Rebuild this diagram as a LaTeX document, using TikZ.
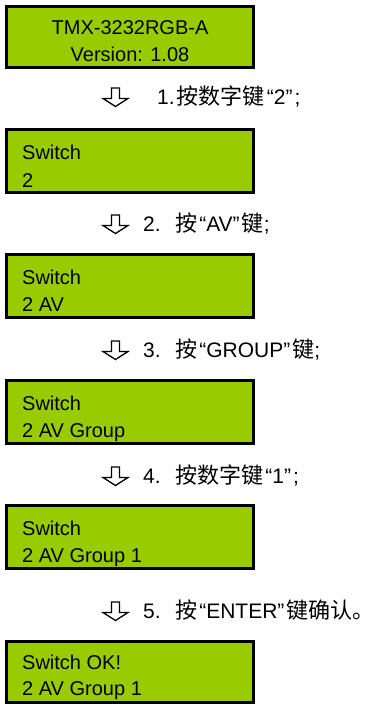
\documentclass[tikz,border=0pt]{standalone}
\usepackage{fontspec}
\setmainfont{Liberation Sans}
\newfontfamily\cjkfont[Scale=1.05]{Noto Sans CJK SC}
\newcommand{\zh}[1]{{\cjkfont #1}}
\newcommand{\qt}[1]{\hspace{2pt}“#1”\hspace{2pt}}
\definecolor{lcd}{HTML}{99CC00}
\begin{document}
\begin{tikzpicture}[x=1pt,y=-1pt,
  lcdbox/.style={draw=black,line width=3pt,fill=lcd},
  lcdtext/.style={anchor=west,inner sep=0pt,text height=14.4pt,text depth=0pt,font=\fontsize{20}{24}\selectfont},
  lcdctext/.style={lcdtext,anchor=center},
  steptext/.style={anchor=west,inner sep=0pt,text height=15pt,text depth=0pt,font=\fontsize{21}{25}\selectfont},
  hollowarrow/.pic={\draw[line width=1.3pt,line join=miter]
     (-4,-9) -- (4,-9) -- (4,1.5) -- (12.5,1.5) -- (0,9.5) -- (-12.5,1.5) -- (-4,1.5) -- cycle;}]
\useasboundingbox (0,0) rectangle (377,704);

% box 1
\draw[lcdbox] (6.5,6.5) rectangle (253.5,67.5);
\node[lcdctext] (b1a) at (130,27) {TMX-3232RGB-A};
\node[lcdctext] (b1b) at (130,54) {Version: 1.08};

% step 1
\pic at (115.5,97) {hollowarrow};
\node[steptext] (s1) at (157,97) {1.\hspace{2pt}\zh{按数字键}\qt{2};};

% box 2
\draw[lcdbox] (6.5,129.5) rectangle (253.5,192.5);
\node[lcdtext] (b2a) at (22,152) {Switch};
\node[lcdtext] (b2b) at (22,180) {2};

% step 2
\pic at (115.5,224) {hollowarrow};
\node[steptext] (s2) at (143,224) {2.\hspace{14.5pt}\zh{按}\qt{AV}\zh{键};};

% box 3
\draw[lcdbox] (6.5,254.5) rectangle (253.5,317.5);
\node[lcdtext] (b3a) at (22,277) {Switch};
\node[lcdtext] (b3b) at (22,304) {2 AV};

% step 3
\pic at (115.5,350) {hollowarrow};
\node[steptext] (s3) at (143,350) {3.\hspace{14.5pt}\zh{按}\qt{GROUP}\zh{键};};

% box 4
\draw[lcdbox] (6.5,380.5) rectangle (253.5,443.5);
\node[lcdtext] (b4a) at (22,403) {Switch};
\node[lcdtext] (b4b) at (22,430) {2 AV Group};

% step 4
\pic at (115.5,476) {hollowarrow};
\node[steptext] (s4) at (143,476) {4.\hspace{14.5pt}\zh{按数字键}\qt{1};};

% box 5
\draw[lcdbox] (6.5,505.5) rectangle (253.5,568.5);
\node[lcdtext] (b5a) at (22,528) {Switch};
\node[lcdtext] (b5b) at (22,555) {2 AV Group 1};

% step 5
\pic at (115.5,611) {hollowarrow};
\node[steptext] (s5) at (143,611) {5.\hspace{14.5pt}\zh{按}\qt{ENTER}\zh{键确认。}};

% box 6
\draw[lcdbox] (6.5,641.5) rectangle (253.5,702.5);
\node[lcdtext] (b6a) at (22,662) {Switch OK!};
\node[lcdtext] (b6b) at (22,688) {2 AV Group 1};
\end{tikzpicture}
\end{document}
